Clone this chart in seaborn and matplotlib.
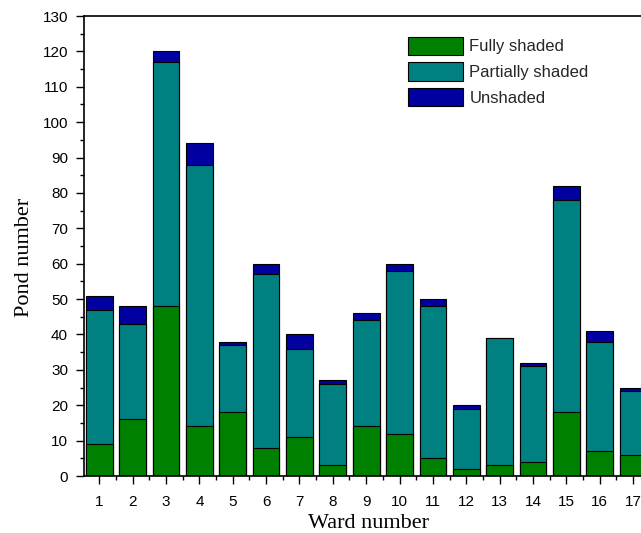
import numpy as np
import matplotlib
matplotlib.use("Agg")
import matplotlib.pyplot as plt
from matplotlib.patches import Patch
from matplotlib.ticker import MultipleLocator
import seaborn as sns

wards = list(range(1, 18))
fully_shaded = [9, 16, 48, 14, 18, 8, 11, 3, 14, 12, 5, 2, 3, 4, 18, 7, 6]
partially_shaded = [38, 27, 69, 74, 19, 49, 25, 23, 30, 46, 43, 17, 36, 27, 60, 31, 18]
unshaded = [4, 5, 3, 6, 1, 3, 4, 1, 2, 2, 2, 1, 0, 1, 4, 3, 1]
series_names = ["Fully shaded", "Partially shaded", "Unshaded"]
series_colors = ["#008000", "#008080", "#0000A0"]

sns.set_theme(style="white")
plt.rcParams["font.family"] = ["Liberation Sans", "DejaVu Sans"]

fig = plt.figure(figsize=(6.41, 5.33), dpi=100)
ax = fig.add_axes([84 / 641, 57 / 533, 569 / 641, 460 / 533])

full = np.array(fully_shaded)
part = np.array(partially_shaded)
unsh = np.array(unshaded)
# stacked bars: draw cumulative totals from the top layer down
layers = [full + part + unsh, full + part, full]
for heights, color in zip(layers, series_colors[::-1]):
    sns.barplot(x=wards, y=heights, native_scale=True, color=color,
                saturation=1, width=0.8, edgecolor="black", linewidth=0.8,
                errorbar=None, ax=ax)

ax.set_xlim(0.54, 17.6)
ax.set_ylim(0, 130)
ax.xaxis.set_major_locator(MultipleLocator(1))
ax.xaxis.set_minor_locator(MultipleLocator(0.5))
ax.yaxis.set_major_locator(MultipleLocator(10))
ax.yaxis.set_minor_locator(MultipleLocator(5))
ax.tick_params(which="both", direction="out", color="black", width=1,
               bottom=True, left=True, top=False, right=False)
ax.tick_params(which="major", length=6, labelsize=11, labelcolor="black")
ax.tick_params(axis="y", which="major", pad=5.5)
ax.tick_params(axis="x", which="major", pad=7.5)
ax.tick_params(which="minor", length=3)
for side, spine in ax.spines.items():
    spine.set_color("black")
    spine.set_linewidth(1.2)

ax.set_xlabel("Ward number", family="Liberation Serif", fontsize=16,
              color="black", labelpad=4)
ax.set_ylabel("Pond number", family="Liberation Serif", fontsize=16,
              color="black")
ax.yaxis.set_label_coords(-0.088, 0.476)

handles = [Patch(facecolor=c, edgecolor="black", linewidth=0.8)
           for c in series_colors]
fig.legend(handles, series_names, loc="upper left",
           bbox_to_anchor=(401 / 641, 1 - 30 / 533),
           bbox_transform=fig.transFigure, frameon=False, fontsize=12,
           handlelength=3.3, handleheight=1.3, labelspacing=0.45,
           handletextpad=0.4, borderpad=0.4, borderaxespad=0)

fig.savefig("out.png", dpi=100)
